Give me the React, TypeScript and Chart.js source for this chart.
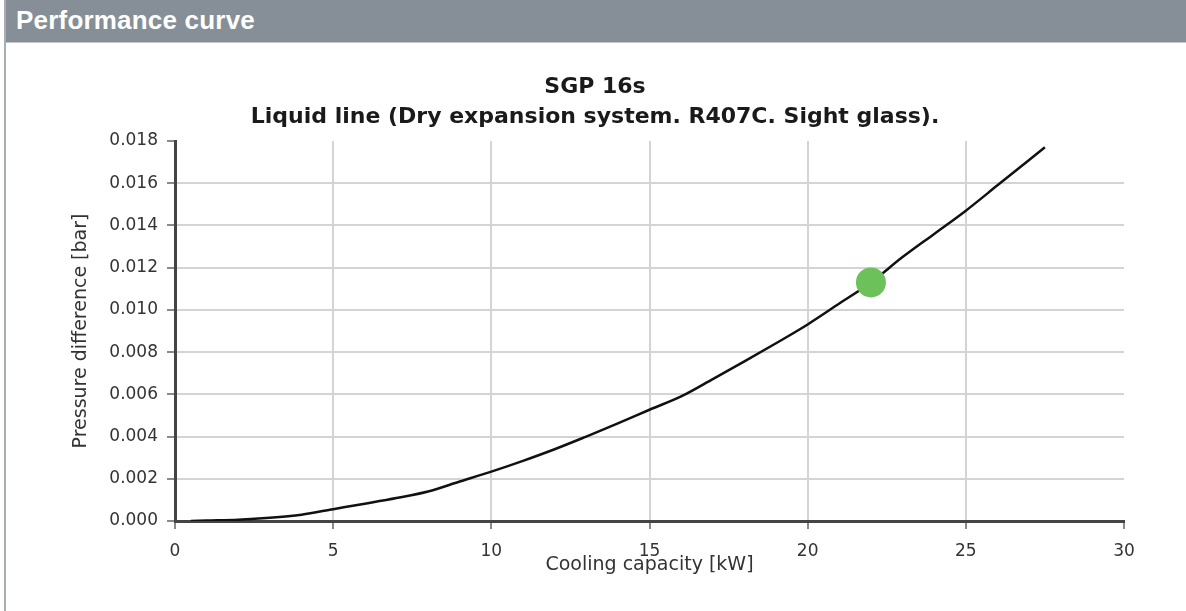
import React, { useEffect, useRef } from "react";
import { Chart, registerables } from "chart.js";

Chart.register(...registerables);

// ---- Data ----
const capacityKW = [0.5, 1, 2, 3, 4, 5, 6, 7, 8, 9, 10, 11, 12, 13, 14, 15, 16, 17, 18, 19, 20, 21, 22, 23, 24, 25, 26, 27, 27.5];
const pressureBar = [
  0, 0.00002, 0.00006, 0.00015, 0.0003, 0.00056, 0.00082, 0.00109, 0.0014, 0.00187,
  0.00234, 0.00285, 0.0034, 0.004, 0.00462, 0.00527, 0.0059, 0.00672, 0.00756, 0.00842,
  0.00931, 0.0103, 0.0113, 0.0125, 0.0136, 0.0147, 0.0159, 0.0171, 0.0177,
];
const operatingPointKW = [22];
const operatingPointBar = [0.0113];

const headerText = "Performance curve";
const titleLines = ["SGP 16s", "Liquid line (Dry expansion system. R407C. Sight glass)."];
const xTitle = "Cooling capacity [kW]";
const yTitle = "Pressure difference [bar]";
const xMin = 0;
const xMax = 30;
const xStep = 5;
const yMin = 0;
const yMax = 0.018;
const yStep = 0.002;

const FONT = "'DejaVu Sans', Verdana, sans-serif";

export default function App() {
  const canvasRef = useRef<HTMLCanvasElement | null>(null);

  useEffect(() => {
    const canvas = canvasRef.current;
    if (!canvas) return;
    const curve = capacityKW.map((x, i) => ({ x, y: pressureBar[i] }));
    const point = operatingPointKW.map((x, i) => ({ x, y: operatingPointBar[i] }));

    const chart = new Chart(canvas, {
      type: "scatter",
      data: {
        datasets: [
          {
            data: point,
            pointRadius: 15,
            pointHoverRadius: 15,
            pointBackgroundColor: "#6cc15a",
            pointBorderColor: "#6cc15a",
            pointBorderWidth: 0,
            showLine: false,
          },
          {
            data: curve,
            showLine: true,
            borderColor: "#111111",
            borderWidth: 2.5,
            pointRadius: 0,
            pointHoverRadius: 0,
            cubicInterpolationMode: "monotone",
            fill: false,
          },
        ],
      },
      options: {
        animation: false,
        responsive: false,
        devicePixelRatio: 1,
        layout: { padding: { left: 66, right: 62, top: 0, bottom: 30 } },
        plugins: {
          legend: { display: false },
          tooltip: { enabled: false },
          title: {
            display: true,
            text: titleLines,
            color: "#1a1a1a",
            font: { family: FONT, size: 22, weight: "bold", lineHeight: "30px" },
            padding: { top: 28, bottom: 9 },
          },
        },
        scales: {
          x: {
            type: "linear",
            min: xMin,
            max: xMax,
            afterFit: (axis: any) => {
              axis.height = 60;
            },
            ticks: {
              stepSize: xStep,
              color: "#333333",
              padding: 12,
              font: { family: FONT, size: 17 },
              maxRotation: 0,
            },
            grid: {
              color: (ctx: any) =>
                ctx.tick && (ctx.tick.value <= xMin || ctx.tick.value >= xMax) ? "rgba(0,0,0,0)" : "#d4d4d4",
              lineWidth: 2,
              tickColor: "#8a8a8a",
              tickWidth: 2,
              tickLength: 8,
            },
            border: { color: "#444444", width: 3 },
            title: {
              display: true,
              text: xTitle,
              color: "#333333",
              font: { family: FONT, size: 19 },
              padding: { top: 0, bottom: 5 },
            },
          },
          y: {
            type: "linear",
            min: yMin,
            max: yMax,
            afterFit: (axis: any) => {
              axis.width = 109;
            },
            ticks: {
              stepSize: yStep,
              color: "#333333",
              padding: 9,
              font: { family: FONT, size: 17 },
              callback: (v: any) => Number(v).toFixed(3),
            },
            grid: {
              color: (ctx: any) =>
                ctx.tick && (ctx.tick.value <= yMin + 1e-9 || ctx.tick.value >= yMax - 1e-9) ? "rgba(0,0,0,0)" : "#d4d4d4",
              lineWidth: 2,
              tickColor: "#8a8a8a",
              tickWidth: 2,
              tickLength: 8,
            },
            border: { color: "#444444", width: 3 },
            title: {
              display: true,
              text: yTitle,
              color: "#333333",
              font: { family: FONT, size: 19 },
              padding: { top: 4, bottom: 4 },
            },
          },
        },
      },
    });
    return () => chart.destroy();
  }, []);

  return (
    <div
      style={{
        position: "fixed",
        left: 0,
        top: 0,
        width: 1186,
        height: 611,
        background: "#ffffff",
        overflow: "hidden",
      }}
    >
      <div
        style={{
          position: "absolute",
          left: 4,
          top: 0,
          width: 2,
          height: 611,
          background: "#a9aeb3",
        }}
      />
      <div
        style={{
          position: "absolute",
          left: 6,
          top: 0,
          width: 1180,
          height: 42,
          background: "#868f98",
          borderBottom: "1px solid #c4c8cc",
          boxSizing: "content-box",
        }}
      >
        <span
          style={{
            position: "absolute",
            left: 10,
            top: 5,
            color: "#ffffff",
            fontFamily: "'Liberation Sans', Arial, sans-serif",
            fontWeight: "bold",
            fontSize: 26,
            lineHeight: "30px",
            letterSpacing: "0.2px",
            whiteSpace: "nowrap",
          }}
        >
          {headerText}
        </span>
      </div>
      <canvas
        ref={canvasRef}
        width={1186}
        height={567}
        style={{ position: "absolute", left: 0, top: 44, width: 1186, height: 567 }}
      />
    </div>
  );
}
